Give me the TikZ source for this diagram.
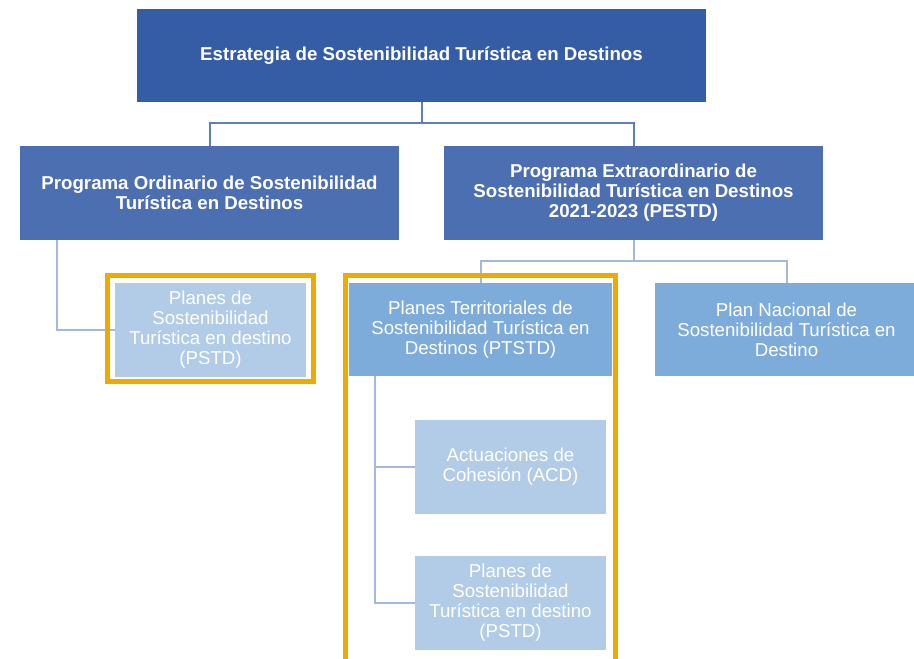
\documentclass[tikz,border=0pt]{standalone}
\usepackage{fontspec}
\setmainfont{Liberation Sans}
\definecolor{topblue}{HTML}{355DA6}
\definecolor{progblue}{HTML}{4B6FB0}
\definecolor{planblue}{HTML}{7EACDA}
\definecolor{subblue}{HTML}{B2CCE8}
\definecolor{linkdark}{HTML}{5C7FC1}
\definecolor{linklight}{HTML}{A6B7DC}
\definecolor{gold}{HTML}{EDAA00}

\begin{document}
\begin{tikzpicture}[x=0.75pt, y=-0.75pt,
    every node/.style={align=center, text=white, inner sep=0pt,
        font=\fontsize{14}{15}\selectfont},
    topbox/.style={fill=topblue, minimum width=426.75pt, minimum height=69.75pt, font=\fontsize{14}{15}\selectfont\bfseries},
    progbox/.style={fill=progblue, minimum width=284.25pt, minimum height=70.5pt, font=\fontsize{14}{15}\selectfont\bfseries},
    planbox/.style={fill=planblue, minimum width=197.25pt, minimum height=69.75pt},
    subbox/.style={fill=subblue, minimum width=143.25pt, minimum height=70.5pt},
    link/.style={draw=linkdark, line width=1.5pt},
    softlink/.style={draw=linklight, line width=1.5pt},
    frame/.style={draw=gold, line width=3.75pt}]

    \useasboundingbox (0,0) rectangle (914,659);

    % the boxes
    \node[topbox] (estrategia) at (421.5,55.5) {Estrategia de Sostenibilidad Turística en Destinos};
    \node[progbox] (ordinario) at (209.5,193) {Programa Ordinario de Sostenibilidad\\Turística en Destinos};
    \node[progbox] (extra) at (633.5,193) {Programa Extraordinario de\\Sostenibilidad Turística en Destinos\\2021-2023 (PESTD)};
    \node[subbox] (pstdA) at (210.5,330) {Planes de\\Sostenibilidad\\Turística en destino\\(PSTD)};
    \node[planbox] (ptstd) at (480.5,329.5) {Planes Territoriales de\\Sostenibilidad Turística en\\Destinos (PTSTD)};
    \node[planbox] (nacional) at (786.5,329.5) {Plan Nacional de\\Sostenibilidad Turística en\\Destino};
    \node[subbox] (acd) at (510.5,467) {Actuaciones de\\Cohesión (ACD)};
    \node[subbox] (pstdB) at (510.5,603) {Planes de\\Sostenibilidad\\Turística en destino\\(PSTD)};

    % the connectors
    \draw[link] (estrategia.south) -- ++(0,21) -| (ordinario.north);
    \draw[link] (estrategia.south) -- ++(0,21) -| (extra.north);
    \draw[softlink] (ordinario.south west) ++(37,0) |- (pstdA.west);
    \draw[softlink] (extra.south) -- ++(0,21) -| (ptstd.north);
    \draw[softlink] (extra.south) -- ++(0,21) -| (nacional.north);
    \draw[softlink] (ptstd.south west) ++(26,0) |- (acd.west);
    \draw[softlink] (ptstd.south west) ++(26,0) |- (pstdB.west);

    % the highlights
    \draw[frame] (107.5,275.5) rectangle (313.5,381.5);
    \draw[frame] (345.5,275.5) rectangle (615.5,680);

\end{tikzpicture}
\end{document}
